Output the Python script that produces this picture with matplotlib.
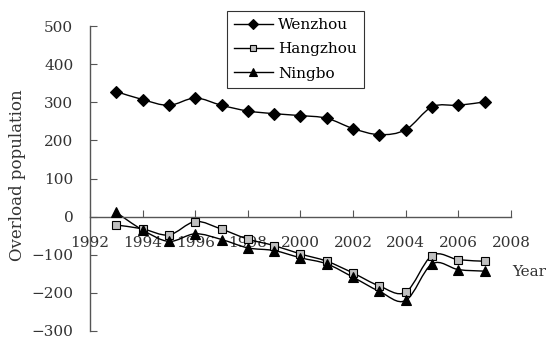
import numpy as np
import matplotlib.pyplot as plt
from matplotlib.path import Path
from matplotlib.patches import PathPatch
from matplotlib.lines import Line2D

# --- data ---
years = [1993, 1994, 1995, 1996, 1997, 1998, 1999, 2000,
         2001, 2002, 2003, 2004, 2005, 2006, 2007]
wenzhou = [328, 307, 292, 311, 292, 277, 270, 265, 258, 231, 215, 228, 288, 292, 301]
hangzhou = [-22, -32, -48, -13, -33, -59, -76, -98, -117, -148, -182, -198, -102, -113, -117]
ningbo = [11, -35, -65, -45, -60, -82, -89, -108, -124, -159, -196, -220, -124, -139, -143]

series = [
    ("Wenzhou", wenzhou, "D", "black", 6),
    ("Hangzhou", hangzhou, "s", "#c0c0c0", 5.5),
    ("Ningbo", ningbo, "^", "black", 6.5),
]

plt.rcParams["font.family"] = ["DejaVu Serif"]
plt.rcParams["font.size"] = 11


def smooth_path(x, y, t=1 / 6):
    # catmull-rom style bezier through the points (excel "smoothed line")
    x = np.asarray(x, float)
    y = np.asarray(y, float)
    verts = [(x[0], y[0])]
    codes = [Path.MOVETO]
    n = len(x)
    for i in range(n - 1):
        p0 = i - 1 if i > 0 else i
        p3 = i + 2 if i + 2 < n else i + 1
        c1 = (x[i] + (x[i + 1] - x[p0]) * t, y[i] + (y[i + 1] - y[p0]) * t)
        c2 = (x[i + 1] - (x[p3] - x[i]) * t, y[i + 1] - (y[p3] - y[i]) * t)
        verts += [c1, c2, (x[i + 1], y[i + 1])]
        codes += [Path.CURVE4] * 3
    return Path(verts, codes)


fig = plt.figure(figsize=(5.5, 3.39), dpi=100)
ax = fig.add_axes([0.1636, 0.0236, 0.7655, 0.8997])

handles = []
for name, vals, mk, fc, ms in series:
    ax.add_patch(PathPatch(smooth_path(years, vals), fill=False,
                           edgecolor="black", lw=1.0, zorder=2))
    ax.plot(years, vals, ls="none", marker=mk, ms=ms, mfc=fc,
            mec="black", mew=0.8, zorder=3)
    handles.append(Line2D([], [], color="black", lw=1.0, marker=mk, ms=ms - 1,
                          mfc=fc, mec="black", mew=0.8, label=name))

ax.set_xlim(1992, 2008)
ax.set_ylim(-300, 500)
ax.set_xticks(range(1992, 2009, 2))
ax.set_yticks(range(-300, 501, 100))
ax.set_yticklabels([str(v).replace("-", "\u2212") for v in range(-300, 501, 100)])

ax.spines["top"].set_visible(False)
ax.spines["right"].set_visible(False)
ax.spines["bottom"].set_position(("data", 0))
for s in ("left", "bottom"):
    ax.spines[s].set_color("#555555")
    ax.spines[s].set_linewidth(1.0)

ax.tick_params(axis="x", direction="in", length=5, pad=14, colors="#555555",
               labelcolor="#333333")
ax.tick_params(axis="y", direction="in", length=5, pad=12, colors="#555555",
               labelcolor="#333333")

ax.set_ylabel("Overload population", color="#333333", fontsize=12)
ax.yaxis.set_label_coords(-0.152, 0.51)
fig.text(0.932, 0.197, "Year", color="#333333", ha="left", va="center")

leg = ax.legend(handles=handles, loc="upper left", borderaxespad=0,
                bbox_to_anchor=(0.325, 1.049), frameon=True, fancybox=False,
                edgecolor="black", handlelength=2.55, borderpad=0.45,
                labelspacing=0.68, handletextpad=0.35)
leg.get_frame().set_linewidth(0.8)

fig.savefig("out.png", dpi=100)
